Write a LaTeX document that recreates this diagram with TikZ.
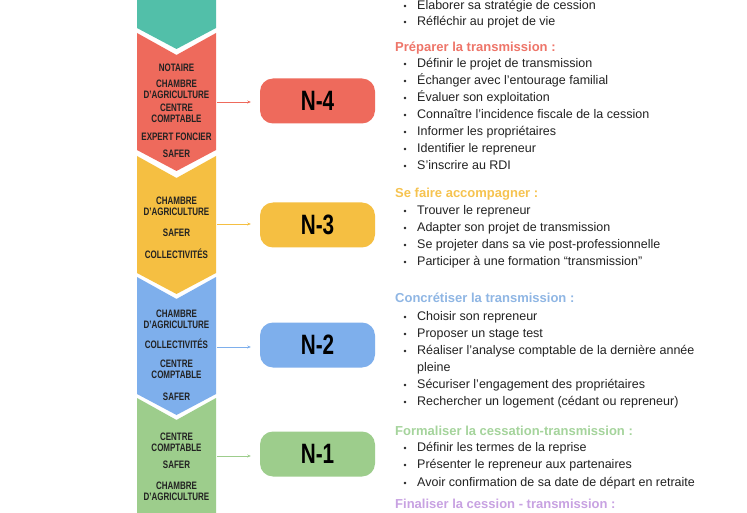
\documentclass[tikz,border=0pt]{standalone}
\usepackage{fontspec}
\setmainfont{Liberation Sans}
\newfontfamily\condfont[FakeStretch=0.74]{Liberation Sans}
\usetikzlibrary{arrows.meta}
\definecolor{cteal}{HTML}{52BFA9}
\definecolor{cred}{HTML}{EE6A5C}
\definecolor{cyel}{HTML}{F5BF42}
\definecolor{cblue}{HTML}{7EAFEC}
\definecolor{cgreen}{HTML}{9DCD8C}
\definecolor{hred}{HTML}{EE7569}
\definecolor{hyel}{HTML}{F6C350}
\definecolor{hblue}{HTML}{8FB6E4}
\definecolor{hgreen}{HTML}{A5D49C}
\definecolor{hlav}{HTML}{C8A2E2}
\definecolor{ink}{HTML}{222222}
\begin{document}
\begin{tikzpicture}[x=1pt,y=-1pt,
  ctext/.style={font=\condfont\bfseries\fontsize{10.8}{10.8}\selectfont, text=ink, align=center, inner sep=0pt},
  nbox/.style={rounded corners=13pt, minimum width=115pt, minimum height=45pt, inner sep=0pt,
     font=\condfont\bfseries\fontsize{28}{30}\selectfont, text=black},
  link/.style={line width=0.6pt, -{Stealth[length=3.5pt,width=3pt]}, shorten >=9pt},
  head/.style={anchor=west, inner sep=0pt, font=\bfseries\fontsize{13}{15}\selectfont, text height=9.5pt, text depth=3pt},
  body/.style={anchor=west, inner sep=0pt, font=\fontsize{12.5}{15}\selectfont, text=ink, text height=9pt, text depth=2.5pt}
]
\useasboundingbox (0,0) rectangle (747,513);
\clip (0,0) rectangle (747,513);
\fill[white] (0,0) rectangle (747,513);

% chevrons
\newcommand{\chev}[2]{\fill[#1] (137,#2) -- (176.5,#2+22) -- (216,#2) -- (216,#2+117) -- (176.5,#2+138) -- (137,#2+117) -- cycle;}
\chev{cteal}{-89}
\chev{cred}{33}
\chev{cyel}{156}
\chev{cblue}{277}
\chev{cgreen}{398}

% chevron texts
\node[ctext] (r1) at (176.5,68) {NOTAIRE};
\node[ctext] (r2) at (176.5,89) {CHAMBRE\\D’AGRICULTURE};
\node[ctext] (r3) at (176.5,113.5) {CENTRE\\COMPTABLE};
\node[ctext] (r4) at (176.5,137) {EXPERT FONCIER};
\node[ctext] (r5) at (176.5,154) {SAFER};

\node[ctext] (y1) at (176.5,206) {CHAMBRE\\D’AGRICULTURE};
\node[ctext] (y2) at (176.5,233) {SAFER};
\node[ctext] (y3) at (176.5,254) {COLLECTIVITÉS};

\node[ctext] (b1) at (176.5,319) {CHAMBRE\\D’AGRICULTURE};
\node[ctext] (b2) at (176.5,344) {COLLECTIVITÉS};
\node[ctext] (b3) at (176.5,369) {CENTRE\\COMPTABLE};
\node[ctext] (b4) at (176.5,397) {SAFER};

\node[ctext] (g1) at (176.5,442) {CENTRE\\COMPTABLE};
\node[ctext] (g2) at (176.5,465) {SAFER};
\node[ctext] (g3) at (176.5,491) {CHAMBRE\\D’AGRICULTURE};

% N boxes
\node[nbox, fill=cred] (n4) at (317.5,101) {N-4};
\node[nbox, fill=cyel] (n3) at (317.5,225) {N-3};
\node[nbox, fill=cblue] (n2) at (317.5,345) {N-2};
\node[nbox, fill=cgreen] (n1) at (317.5,454) {N-1};

% connectors
\coordinate (c4) at (217,102);
\coordinate (c3) at (217,224);
\coordinate (c2) at (217,347);
\coordinate (c1) at (217,456);
\draw[link, cred] (c4) -- (c4 -| n4.west);
\draw[link, cyel] (c3) -- (c3 -| n3.west);
\draw[link, cblue] (c2) -- (c2 -| n2.west);
\draw[link, cgreen] (c1) -- (c1 -| n1.west);

% right text
\newcommand{\itm}[3]{\fill[ink] (405,#2) circle (1.3pt); \node[body] (#1) at (417,#2) {#3};}
\itm{a1}{6}{Elaborer sa stratégie de cession}
\itm{a2}{22}{Réfléchir au projet de vie}

\node[head, text=hred] (h1) at (395,48) {Préparer la transmission :};
\itm{p1}{64}{Définir le projet de transmission}
\itm{p2}{81}{Échanger avec l’entourage familial}
\itm{p3}{98}{Évaluer son exploitation}
\itm{p4}{115}{Connaître l’incidence fiscale de la cession}
\itm{p5}{132}{Informer les propriétaires}
\itm{p6}{149}{Identifier le repreneur}
\itm{p7}{166}{S’inscrire au RDI}

\node[head, text=hyel] (h2) at (395,194) {Se faire accompagner :};
\itm{s1}{211}{Trouver le repreneur}
\itm{s2}{228}{Adapter son projet de transmission}
\itm{s3}{245}{Se projeter dans sa vie post-professionnelle}
\itm{s4}{262}{Participer à une formation “transmission”}

\node[head, text=hblue] (h3) at (395,299) {Concrétiser la transmission :};
\itm{k1}{317}{Choisir son repreneur}
\itm{k2}{334}{Proposer un stage test}
\itm{k3}{351}{Réaliser l’analyse comptable de la dernière année}
\node[body] (k3b) at (417,368) {pleine};
\itm{k4}{385}{Sécuriser l’engagement des propriétaires}
\itm{k5}{402}{Rechercher un logement (cédant ou repreneur)}

\node[head, text=hgreen] (h4) at (395,432) {Formaliser la cessation-transmission :};
\itm{f1}{448}{Définir les termes de la reprise}
\itm{f2}{465}{Présenter le repreneur aux partenaires}
\itm{f3}{483}{Avoir confirmation de sa date de départ en retraite}

\node[head, text=hlav] (h5) at (395,505) {Finaliser la cession - transmission :};
\end{tikzpicture}
\end{document}
